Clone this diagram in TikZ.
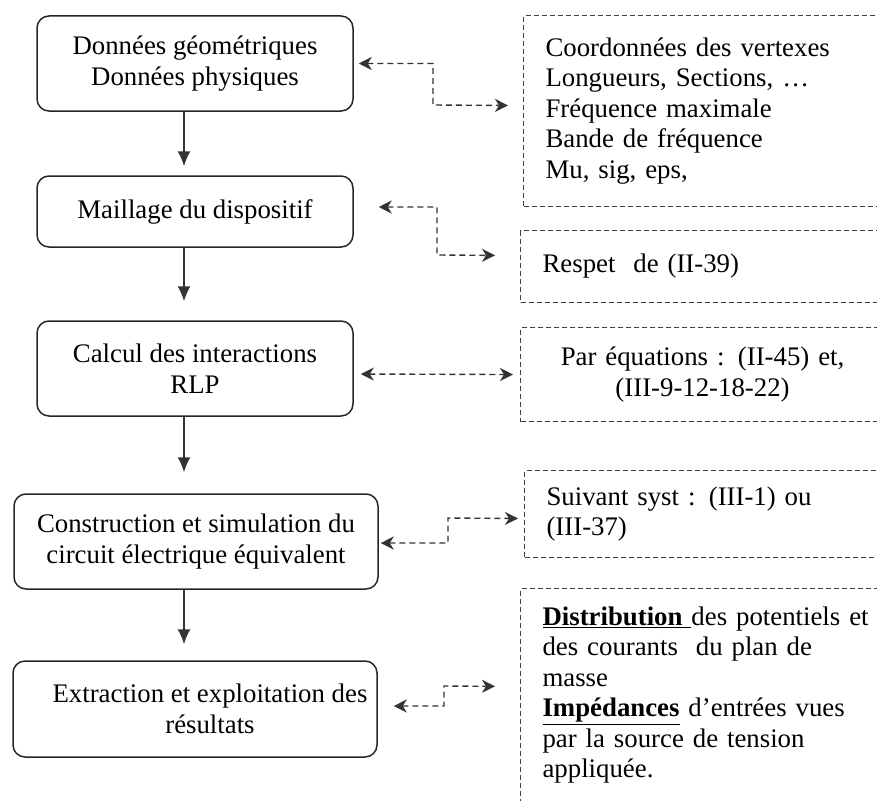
\documentclass[tikz,border=0pt]{standalone}
\usepackage{fontspec}
\setmainfont{Liberation Serif}
\usetikzlibrary{arrows.meta}

\begin{document}
\begin{tikzpicture}[x=1pt,y=-1pt,
    etape/.style={draw=black!85,line width=1.5pt,rounded corners=12pt,
                  align=center,inner sep=0pt,
                  font=\fontsize{26.8pt}{30.5pt}\selectfont},
    note/.style={draw=black!75,line width=1.1pt,dash pattern=on 5pt off 3pt,
                 anchor=north west,inner xsep=22pt,inner ysep=0pt,
                 font=\fontsize{26.8pt}{30.5pt}\selectfont,
                 execute at begin node={\fontsize{26.8pt}{30.5pt}\selectfont}},
    suite/.style={-{Latex[length=15pt,width=13pt]},draw=black!80,line width=1.5pt},
    lien/.style={{Stealth[length=13pt,width=13pt,inset=4pt]}-{Stealth[length=13pt,width=13pt,inset=4pt]},
                 draw=black!80,line width=1.4pt,dash pattern=on 6pt off 4pt},
  ]
    \useasboundingbox (0,0) rectangle (877,800);
    \clip (0,0) rectangle (877,800);

    % Etapes
    \node[etape,minimum width=316pt,minimum height=95pt] (geo) at (195,63.5)
      {Données géométriques\\Données physiques};
    \node[etape,minimum width=316pt,minimum height=71pt] (maill) at (195,211.5)
      {Maillage du dispositif};
    \node[etape,minimum width=316pt,minimum height=95pt] (calc) at (195,368.5)
      {Calcul des interactions\\RLP};
    \node[etape,minimum width=364pt,minimum height=95pt] (circ) at (196,541.5)
      {Construction et simulation du\\circuit électrique équivalent};
    \node[etape,minimum width=364pt,minimum height=96pt] (extr) at (195,709)
      {\hspace*{30pt}Extraction et exploitation des\\\hspace*{30pt}résultats};

    % Remarques
    \node[note,text width=340pt,align=left,minimum height=191pt] (donn) at (523,15)
      {Coordonnées des vertexes\\Longueurs, Sections, …\\Fréquence maximale\\
       Bande de fréquence\\Mu, sig, eps,};
    \node[note,text width=340pt,align=left,minimum height=72pt] (resp) at (520,230)
      {Respet\ \ de (II-39)};
    \node[note,text width=320pt,align=center,minimum height=94pt] (eq) at (520,327)
      {Par équations : (II-45) et,\\(III-9-12-18-22)};
    \node[note,text width=340pt,align=left,minimum height=87pt] (syst) at (524,470)
      {Suivant syst : (III-1) ou\\(III-37)};
    \node[note,text width=340pt,align=left,minimum height=238pt] (res) at (520,588)
      {\underline{\textbf{Distribution}\ }des potentiels et\\des courants\ \ du plan de\\
       masse\\\underline{\textbf{Impédances}} d’entrées vues\\par la source de tension\\
       appliquée.\\\mbox{}};

    % Enchainement
    \coordinate (axe) at (184,0);
    \draw[suite,shorten >=9pt] (geo.south -| axe) -- (maill.north -| axe);
    \draw[suite,shorten >=19pt] (maill.south -| axe) -- (calc.north -| axe);
    \draw[suite,shorten >=21pt] (calc.south -| axe) -- (circ.north -| axe);
    \draw[suite,shorten >=16pt] (circ.south -| axe) -- (extr.north -| axe);

    % Liens
    \coordinate (k1) at (433,105);
    \coordinate (k2) at (437,255);
    \coordinate (k4) at (448,518);
    \coordinate (k5) at (444,686);
    \draw[lien,shorten <=5pt,shorten >=15pt] (geo.east) -| (k1) -- ([yshift=5.5pt]donn.west);
    \draw[lien,shorten <=25pt,shorten >=25pt] ([yshift=4.5pt]maill.east) -| (k2) -- ([yshift=11pt]resp.west);
    \draw[lien,shorten <=7pt,shorten >=7pt] ([yshift=-5.5pt]calc.east) -- (eq.west);
    \draw[lien,shorten <=2pt,shorten >=6pt] ([yshift=-1.5pt]circ.east) -| (k4) -- ([yshift=-4.5pt]syst.west);
    \draw[lien,shorten <=16pt,shorten >=25pt] ([yshift=3pt]extr.east) -| (k5) -- ([yshift=21pt]res.west);

  \end{tikzpicture}
\end{document}
